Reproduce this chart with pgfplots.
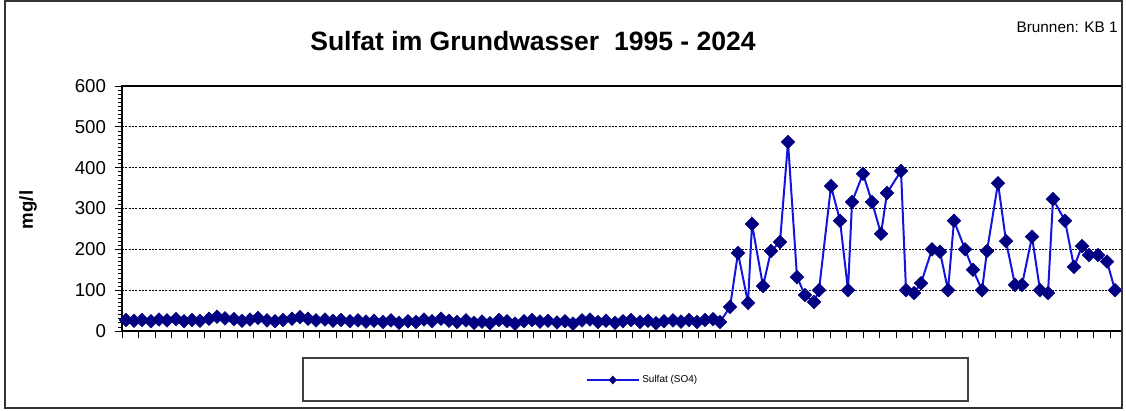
\documentclass[border=0pt]{standalone}
\usepackage{pgfplots}
\pgfplotsset{compat=1.18}
\usepackage{fontspec}
\setmainfont{Liberation Sans}
\definecolor{linieblau}{RGB}{20,20,220}
\definecolor{markerblau}{RGB}{0,0,128}

\begin{document}
\begin{tikzpicture}
% 1 px of the reference = 0.75pt, axis box lower left at (0,0)
\useasboundingbox (-91.5pt,-59.25pt) rectangle (753pt,248.25pt);
\begin{axis}[
    at={(0,0)}, anchor=south west,
    scale only axis, width=750pt, height=183.75pt,
    xmin=0, xmax=1000, ymin=0, ymax=600,
    xtick={0,16.47,...,989}, xticklabels={},
    ytick={0,100,...,600},
    minor y tick num=9,
    tick align=outside, xtick pos=bottom, ytick pos=left,
    major tick length=5.5pt, minor tick length=3pt,
    tick style={black, line width=0.6pt},
    axis line style={black, line width=0.8pt},
    ymajorgrids,
    grid style={black, line width=0.6pt, dash pattern=on 1.5pt off 1pt},
    /pgf/number format/assume math mode=true,
    yticklabel style={font=\fontsize{14}{16}\selectfont, xshift=-3pt},
    legend style={draw=none, fill=none, at={(0.521,-0.2)}, anchor=center,
        font=\fontsize{7.5}{9}\selectfont},
    legend image code/.code={
        \draw[linieblau, line width=1.2pt] (0pt,0pt) -- (39pt,0pt);
        \fill[markerblau] (19.5pt,2.2pt) -- (21.5pt,0pt) -- (19.5pt,-2.2pt) -- (17.5pt,0pt) -- cycle;
    },
]
\addplot[color=linieblau, line width=1.5pt, mark=square*, mark size=3.6pt,
    mark options={rotate=45, fill=markerblau, draw=markerblau, line width=0.4pt}]
coordinates {
(4,27)(12,25)(20,27)(29,24)(37,28)(45,26)(54,29)(62,24)(70,27)(78,25)
(87,30)(95,35)(103,31)(112,29)(120,25)(128,28)(136,32)(145,26)(153,24)(161,27)
(170,30)(178,34)(186,30)(194,26)(203,28)(211,25)(219,27)(228,24)(236,26)(244,23)
(252,25)(261,22)(269,26)(277,20)(286,24)(294,22)(302,28)(310,24)(319,30)(327,25)
(335,22)(344,26)(352,20)(360,23)(368,19)(377,27)(385,24)(393,18)(402,24)(410,27)
(418,23)(426,25)(435,21)(443,24)(451,18)(460,26)(468,28)(476,22)(484,25)(493,20)
(501,24)(509,27)(518,22)(526,25)(534,19)(542,24)(551,26)(559,23)(567,27)(575,22)
(583,27)(591,29)(598,22)
(608,59)(616,191)(626,69)(630,262)(641,110)(649,196)(658,218)(666,463)(675,132)(683,88)
(692,71)(697,100)(709,355)(718,270)(726,100)(730,316)(741,385)(750,316)(759,238)(765,338)
(779,392)(784,100)(792,93)(799,117)(810,200)(818,194)(826,100)(832,270)(843,200)(851,150)
(860,100)(865,196)(876,362)(884,220)(893,113)(900,113)(910,231)(918,100)(926,93)(931,323)
(943,270)(952,157)(960,208)(967,186)(976,186)(985,170)(993,100)
};
\addlegendentry{Sulfat (SO4)}
\end{axis}
% outer frame, legend frame, titles
\draw[black!80, line width=1.1pt] (-87.75pt,-57.75pt) rectangle (750pt,247.5pt);
\draw[black!75, line width=0.8pt] (135.75pt,-20.25pt) rectangle (634.5pt,-52.5pt);
\node[anchor=base, font=\fontsize{19.9}{22}\selectfont\bfseries, inner sep=0pt]
    at (308.25pt,210.2pt) {Sulfat im Grundwasser\ \ 1995 - 2024};
\node[anchor=base east, font=\fontsize{11.5}{13}\selectfont, inner sep=0pt]
    at (747pt,223.5pt) {Brunnen: KB 1};
\node[rotate=90, font=\fontsize{14}{16}\selectfont\bfseries, inner sep=0pt]
    at (-70.5pt,90.75pt) {mg/l};
\end{tikzpicture}
\end{document}
